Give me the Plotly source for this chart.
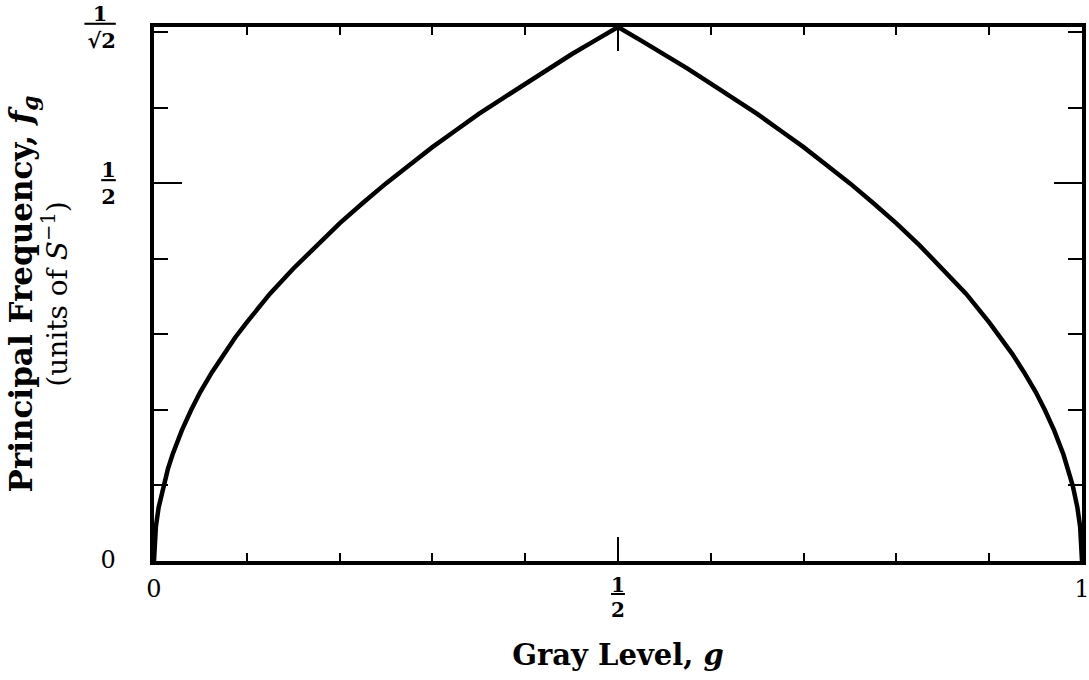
import plotly.graph_objects as go

# Gray level g and principal frequency f_g
gray_level = [0.0, 0.002, 0.005, 0.01, 0.015, 0.02, 0.03, 0.04, 0.05, 0.0625, 0.075, 0.0875,
              0.1, 0.125, 0.15, 0.175, 0.2, 0.225, 0.25, 0.275, 0.3, 0.325, 0.35, 0.375,
              0.4, 0.425, 0.45, 0.475, 0.5,
              0.525, 0.55, 0.575, 0.6, 0.625, 0.65, 0.675, 0.7, 0.725, 0.75, 0.775,
              0.8, 0.825, 0.85, 0.875, 0.9, 0.9125, 0.925, 0.9375, 0.95, 0.96, 0.97,
              0.98, 0.985, 0.99, 0.995, 0.998, 1.0]
principal_freq = [0.0, 0.045, 0.071, 0.1, 0.122, 0.141, 0.173, 0.2, 0.224, 0.25, 0.274, 0.296,
                  0.316, 0.354, 0.387, 0.418, 0.447, 0.474, 0.5, 0.524, 0.548, 0.57, 0.592, 0.612,
                  0.632, 0.652, 0.671, 0.689, 0.7071,
                  0.689, 0.671, 0.652, 0.632, 0.612, 0.592, 0.57, 0.548, 0.524, 0.5, 0.474,
                  0.447, 0.418, 0.387, 0.354, 0.316, 0.296, 0.274, 0.25, 0.224, 0.2, 0.173,
                  0.141, 0.122, 0.1, 0.071, 0.045, 0.0]

BIG = "<span style='font-size:24px'>{}</span>"
HALF = "<b><span style='text-decoration:underline'>1</span><br>2</b>"
ROOT_HALF = "<b><span style='text-decoration:underline'>\u2009\u20091\u2009\u2009</span><br>\u221a2</b>"

x_tick_vals = [0, 0.5, 1]
x_tick_text = [BIG.format("0"), "", BIG.format("1")]
x_frac_val = 0.5
y_tick_vals = [0, 0.5, 0.7071]
y_tick_text = [BIG.format("0"), HALF, ROOT_HALF]

FONT = "DejaVu Serif"

fig = go.Figure()
fig.add_trace(go.Scatter(x=gray_level, y=principal_freq, mode="lines",
                         line=dict(color="black", width=4.5), showlegend=False))

# stacked fraction 1/2 under the middle x tick: numerator (underlined) and denominator
fig.add_annotation(x=x_frac_val, xref="x", y=0, yref="paper", yanchor="middle",
                   yshift=-24, showarrow=False,
                   text="<b><span style='text-decoration:underline'>1</span></b>",
                   font=dict(family=FONT, size=20, color="black"))
fig.add_annotation(x=x_frac_val, xref="x", y=0, yref="paper", yanchor="middle",
                   yshift=-49, showarrow=False, text="<b>2</b>",
                   font=dict(family=FONT, size=20, color="black"))

fig.update_xaxes(range=[0, 1], showline=True, linewidth=4, linecolor="black", mirror="ticks",
                 showgrid=False, zeroline=False, automargin=False, ticklabeloverflow="allow",
                 tickmode="array", tickvals=x_tick_vals, ticktext=x_tick_text,
                 ticks="inside", ticklen=24, tickwidth=2, tickcolor="black",
                 ticklabelstandoff=8,
                 minor=dict(ticks="inside", ticklen=8, tickwidth=2, tickcolor="black",
                            dtick=0.1, tick0=0, showgrid=False),
                 tickfont=dict(family=FONT, size=20, color="black"),
                 title=dict(text="<b>Gray Level, <i>g</i></b>", standoff=44,
                            font=dict(family=FONT, size=29, color="black")))
fig.update_yaxes(range=[0, 0.7071], showline=True, linewidth=4, linecolor="black", mirror="ticks",
                 showgrid=False, zeroline=False, automargin=False, ticklabeloverflow="allow",
                 tickmode="array", tickvals=y_tick_vals, ticktext=y_tick_text,
                 ticks="inside", ticklen=28, tickwidth=2, tickcolor="black",
                 ticklabelstandoff=30,
                 minor=dict(ticks="inside", ticklen=14, tickwidth=2, tickcolor="black",
                            dtick=0.1, tick0=0, showgrid=False),
                 tickfont=dict(family=FONT, size=21, color="black"),
                 title=dict(text="<span style='font-size:31px'><b>Principal Frequency, <i>f<sub>g</sub></i></b></span>"
                                 "<br><span style='font-size:28px'>(units of <i>S</i><sup>\u22121</sup>)</span>",
                            standoff=10, font=dict(family=FONT, size=27, color="black")))

fig.update_layout(width=1089, height=680, plot_bgcolor="white", paper_bgcolor="white",
                  margin=dict(l=154, r=7, t=27, b=119))

fig.write_html("out.html")
